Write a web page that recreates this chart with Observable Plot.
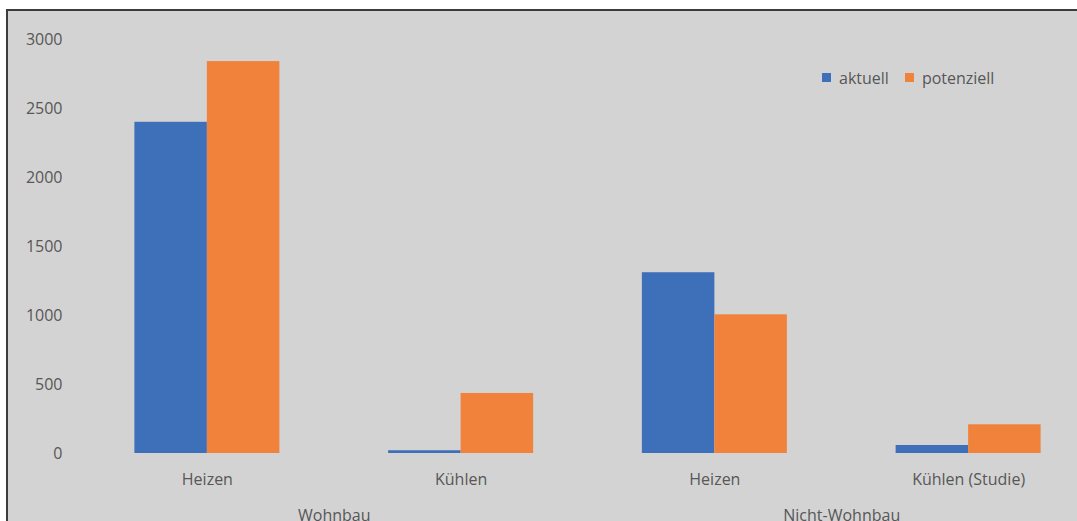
<!DOCTYPE html>
<html>
<head>
<meta charset="utf-8">
<script src="https://cdn.jsdelivr.net/npm/d3@7"></script>
<script src="https://cdn.jsdelivr.net/npm/@observablehq/plot@0.6"></script>
<style>
  html, body { margin: 0; padding: 0; background: #ffffff; }
  #wrap { position: relative; width: 1077px; height: 521px; overflow: hidden; background: #ffffff;
          font-family: "Open Sans", "Noto Sans", sans-serif; }
  #panel { position: absolute; left: 6px; top: 9px; right: -10px; bottom: -10px;
           background: #d3d3d3; border-left: 2px solid #3c3c3c; border-top: 2px solid #3c3c3c; }
  #chart { position: absolute; left: 0; top: 0; }
  #legend { position: absolute; left: 822px; top: 61px; }
  .lg { font-family: "Open Sans", "Noto Sans", sans-serif !important; font-size: 16px !important; color: #575757 !important; }
  .lg.plot-swatches, .lg { margin: 0 !important; min-height: 0 !important; }
  .lg span { margin-right: 17px !important; font-size: 16px !important; }
  .lg svg { margin-right: 6px !important; }
</style>
</head>
<body>
<div id="wrap">
  <div id="panel"></div>
  <div id="chart"></div>
  <div id="legend"></div>
</div>
<script>
const groups = ["Wohnbau", "Wohnbau", "Nicht-Wohnbau", "Nicht-Wohnbau"];
const categories = ["Heizen", "Kühlen", "Heizen", "Kühlen (Studie)"];
const seriesNames = ["aktuell", "potenziell"];
const aktuell = [2400, 20, 1310, 58];
const potenziell = [2840, 435, 1005, 208];
const yTicks = [0, 500, 1000, 1500, 2000, 2500, 3000];
const colors = ["#3e70b9", "#f1823b"];

const keys = categories.map((c, i) => groups[i] + "|" + c + "|" + i);
const data = [];
keys.forEach((k, i) => {
  data.push({key: k, series: seriesNames[0], value: aktuell[i]});
  data.push({key: k, series: seriesNames[1], value: potenziell[i]});
});
// group label sits at the boundary between the two categories of a group
const groupLabels = [];
groups.forEach((g, i) => { if (i === 0 || groups[i - 1] !== g) groupLabels.push({key: keys[i], label: g}); });

const chart = Plot.plot({
  width: 1077,
  height: 521,
  marginTop: 39,
  marginBottom: 68,
  marginLeft: 80,
  marginRight: 0,
  style: {background: "transparent", fontFamily: "'Open Sans', 'Noto Sans', sans-serif", fontSize: "16px", color: "#575757"},
  fx: {domain: keys, range: [80, 1095], padding: 0, round: false, label: null},
  x: {domain: seriesNames, paddingInner: 0, paddingOuter: 0.75, round: false, axis: null},
  y: {domain: [0, 3000], label: null},
  color: {domain: seriesNames, range: colors},
  marks: [
    Plot.barY(data, {fx: "key", x: "series", y: "value", fill: "series"}),
    Plot.axisY({ticks: yTicks, tickSize: 0, tickPadding: 18, label: null, fill: "#575757", fontSize: 16, tickFormat: d => String(d)}),
    Plot.axisFx({anchor: "bottom", tickSize: 0, tickPadding: 20, label: null, fill: "#575757", fontSize: 16,
                 tickFormat: d => d.split("|")[1]}),
    Plot.text(groupLabels, {fx: "key", text: "label", frameAnchor: "bottom-right", textAnchor: "middle",
                 lineAnchor: "top", dy: 56, fill: "#575757", fontSize: 16})
  ]
});
document.getElementById("chart").appendChild(chart);

const legend = Plot.legend({
  color: {domain: seriesNames, range: colors},
  legend: "swatches",
  swatchSize: 9,
  className: "lg",
  style: {fontSize: "16px", fontFamily: "'Open Sans', 'Noto Sans', sans-serif", color: "#575757", margin: "0"}
});
document.getElementById("legend").appendChild(legend);
</script>
</body>
</html>
